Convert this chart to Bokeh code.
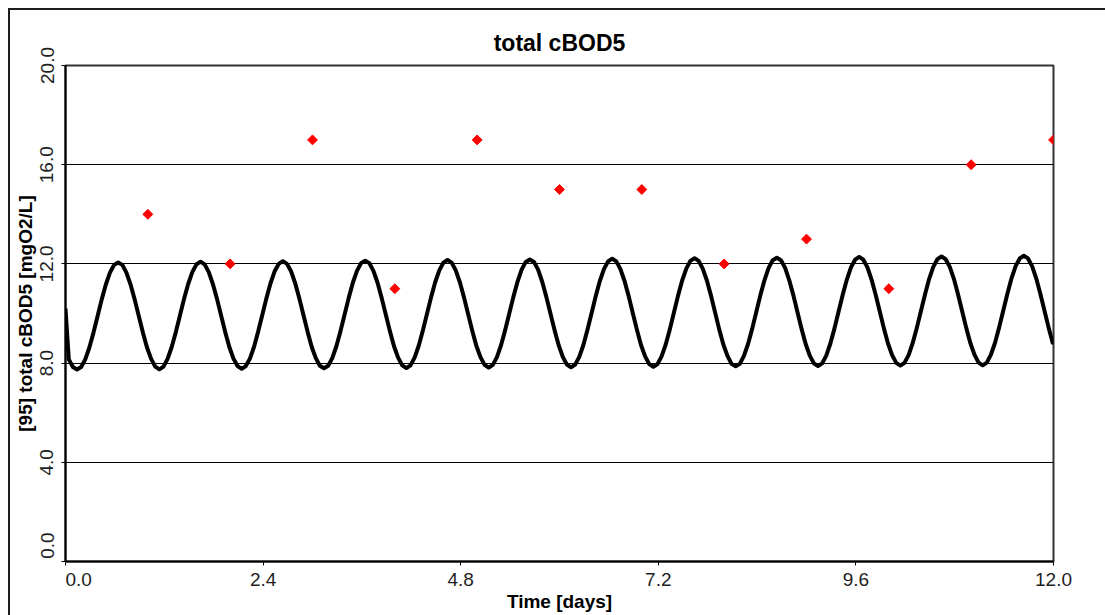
from bokeh.plotting import figure
from bokeh.models import Range1d, FixedTicker, ColumnDataSource, NumeralTickFormatter
from bokeh.embed import file_html
from bokeh.resources import INLINE

# ---- data ----
time_days = [
    0.0,
    0.04, 0.09, 0.14, 0.19, 0.24, 0.29, 0.34, 0.39, 0.44, 0.49, 0.54, 0.59, 0.64, 0.69, 0.74, 0.79, 0.84, 0.89, 0.94, 0.99,
    1.04, 1.09, 1.14, 1.19, 1.24, 1.29, 1.34, 1.39, 1.44, 1.49, 1.54, 1.59, 1.64, 1.69, 1.74, 1.79, 1.84, 1.89, 1.94, 1.99,
    2.04, 2.09, 2.14, 2.19, 2.24, 2.29, 2.34, 2.39, 2.44, 2.49, 2.54, 2.59, 2.64, 2.69, 2.74, 2.79, 2.84, 2.89, 2.94, 2.99,
    3.04, 3.09, 3.14, 3.19, 3.24, 3.29, 3.34, 3.39, 3.44, 3.49, 3.54, 3.59, 3.64, 3.69, 3.74, 3.79, 3.84, 3.89, 3.94, 3.99,
    4.04, 4.09, 4.14, 4.19, 4.24, 4.29, 4.34, 4.39, 4.44, 4.49, 4.54, 4.59, 4.64, 4.69, 4.74, 4.79, 4.84, 4.89, 4.94, 4.99,
    5.04, 5.09, 5.14, 5.19, 5.24, 5.29, 5.34, 5.39, 5.44, 5.49, 5.54, 5.59, 5.64, 5.69, 5.74, 5.79, 5.84, 5.89, 5.94, 5.99,
    6.04, 6.09, 6.14, 6.19, 6.24, 6.29, 6.34, 6.39, 6.44, 6.49, 6.54, 6.59, 6.64, 6.69, 6.74, 6.79, 6.84, 6.89, 6.94, 6.99,
    7.04, 7.09, 7.14, 7.19, 7.24, 7.29, 7.34, 7.39, 7.44, 7.49, 7.54, 7.59, 7.64, 7.69, 7.74, 7.79, 7.84, 7.89, 7.94, 7.99,
    8.04, 8.09, 8.14, 8.19, 8.24, 8.29, 8.34, 8.39, 8.44, 8.49, 8.54, 8.59, 8.64, 8.69, 8.74, 8.79, 8.84, 8.89, 8.94, 8.99,
    9.04, 9.09, 9.14, 9.19, 9.24, 9.29, 9.34, 9.39, 9.44, 9.49, 9.54, 9.59, 9.64, 9.69, 9.74, 9.79, 9.84, 9.89, 9.94, 9.99,
    10.04, 10.09, 10.14, 10.19, 10.24, 10.29, 10.34, 10.39, 10.44, 10.49, 10.54, 10.59, 10.64, 10.69, 10.74, 10.79, 10.84, 10.89, 10.94, 10.99,
    11.04, 11.09, 11.14, 11.19, 11.24, 11.29, 11.34, 11.39, 11.44, 11.49, 11.54, 11.59, 11.64, 11.69, 11.74, 11.79, 11.84, 11.89, 11.94, 11.99,
    12.0,
]
cbod_model = [
    10.2,
    8.15, 7.84, 7.74, 7.84, 8.15, 8.63, 9.23, 9.90, 10.57, 11.17, 11.65, 11.96, 12.06, 11.96, 11.65, 11.17, 10.57, 9.90, 9.23, 8.63,
    8.17, 7.86, 7.75, 7.86, 8.17, 8.65, 9.25, 9.92, 10.59, 11.19, 11.67, 11.98, 12.09, 11.98, 11.67, 11.19, 10.59, 9.92, 9.25, 8.65,
    8.18, 7.88, 7.77, 7.88, 8.18, 8.66, 9.27, 9.94, 10.61, 11.22, 11.70, 12.00, 12.11, 12.00, 11.70, 11.22, 10.61, 9.94, 9.27, 8.66,
    8.20, 7.89, 7.79, 7.89, 8.20, 8.68, 9.29, 9.96, 10.63, 11.24, 11.72, 12.03, 12.13, 12.03, 11.72, 11.24, 10.63, 9.96, 9.29, 8.68,
    8.22, 7.91, 7.80, 7.91, 8.22, 8.70, 9.31, 9.98, 10.65, 11.26, 11.74, 12.05, 12.16, 12.05, 11.74, 11.26, 10.65, 9.98, 9.31, 8.70,
    8.24, 7.93, 7.82, 7.93, 8.24, 8.72, 9.33, 10.00, 10.67, 11.28, 11.77, 12.08, 12.18, 12.08, 11.77, 11.28, 10.67, 10.00, 9.33, 8.72,
    8.25, 7.94, 7.83, 7.94, 8.25, 8.73, 9.35, 10.02, 10.70, 11.31, 11.79, 12.10, 12.21, 12.10, 11.79, 11.31, 10.70, 10.02, 9.35, 8.73,
    8.27, 7.96, 7.85, 7.96, 8.27, 8.75, 9.36, 10.04, 10.72, 11.33, 11.81, 12.12, 12.23, 12.12, 11.81, 11.33, 10.72, 10.04, 9.36, 8.75,
    8.29, 7.97, 7.87, 7.97, 8.29, 8.77, 9.38, 10.06, 10.74, 11.35, 11.84, 12.15, 12.25, 12.15, 11.84, 11.35, 10.74, 10.06, 9.38, 8.77,
    8.30, 7.99, 7.88, 7.99, 8.30, 8.79, 9.40, 10.08, 10.76, 11.37, 11.86, 12.17, 12.28, 12.17, 11.86, 11.37, 10.76, 10.08, 9.40, 8.79,
    8.32, 8.01, 7.90, 8.01, 8.32, 8.81, 9.42, 10.10, 10.78, 11.40, 11.88, 12.19, 12.30, 12.19, 11.88, 11.40, 10.78, 10.10, 9.42, 8.81,
    8.34, 8.02, 7.91, 8.02, 8.34, 8.82, 9.44, 10.12, 10.80, 11.42, 11.91, 12.22, 12.33, 12.22, 11.91, 11.42, 10.80, 10.12, 9.44, 8.82,
    8.78,
]
obs_days = [1, 2, 3, 4, 5, 6, 7, 8, 9, 10, 11, 12]
obs_cbod = [14, 12, 17, 11, 17, 15, 15, 12, 13, 11, 16, 17]

x_ticks = [0.0, 2.4, 4.8, 7.2, 9.6, 12.0]
y_ticks = [0.0, 4.0, 8.0, 12.0, 16.0, 20.0]

title_text = "total cBOD5"
x_label = "Time [days]"
y_label = "[95] total cBOD5 [mgO2/L]"

FONT = "Liberation Sans"
INK = "#1e1e1e"
NBSP = "\u00a0"

p = figure(
    frame_width=988, frame_height=496,
    min_border_left=55, min_border_right=52, min_border_top=55, min_border_bottom=54,
    x_range=Range1d(0, 12), y_range=Range1d(0, 20),
    output_backend="svg", toolbar_location=None,
    title=title_text,
)
p.margin = (8, 0, 0, 8)
p.styles = {"border-top": "2px solid #1e1e1e", "border-left": "2px solid #1e1e1e"}

p.background_fill_color = "white"
p.border_fill_color = "white"
p.outline_line_color = "#333333"
p.outline_line_width = 2

p.title.text_font = FONT
p.title.text_font_size = "23px"
p.title.text_font_style = "bold"
p.title.text_color = "black"
p.title.align = "center"
p.title.standoff = 19

# x axis
xa = p.xaxis[0]
xa.ticker = FixedTicker(ticks=x_ticks)
xa.formatter = NumeralTickFormatter(format="0.0")
# first label kept inside the frame, as in the reference
xa.major_label_overrides = {0: NBSP * 5 + "0.0"}
xa.minor_tick_line_color = None
xa.major_tick_in = 0
xa.major_tick_out = 4
xa.major_tick_line_color = "black"
xa.axis_line_color = "black"
xa.axis_line_width = 2
xa.major_label_text_font = FONT
xa.major_label_text_font_size = "19px"
xa.major_label_text_color = INK
xa.major_label_standoff = 3
xa.axis_label = x_label
xa.axis_label_text_font = FONT
xa.axis_label_text_font_size = "19px"
xa.axis_label_text_font_style = "bold"
xa.axis_label_text_color = "black"
xa.axis_label_standoff = -2

# y axis
ya = p.yaxis[0]
ya.ticker = FixedTicker(ticks=y_ticks)
ya.formatter = NumeralTickFormatter(format="0.0")
ya.major_label_overrides = {0: NBSP * 6 + "0.0"}
ya.minor_tick_line_color = None
ya.major_tick_in = 0
ya.major_tick_out = 4
ya.major_tick_line_color = "black"
ya.axis_line_color = "black"
ya.axis_line_width = 2
ya.major_label_orientation = "vertical"
ya.major_label_text_font = FONT
ya.major_label_text_font_size = "19px"
ya.major_label_text_color = INK
ya.major_label_standoff = 4
ya.axis_label = y_label
ya.axis_label_text_font = FONT
ya.axis_label_text_font_size = "19px"
ya.axis_label_text_font_style = "bold"
ya.axis_label_text_color = "black"
ya.axis_label_standoff = -2

p.xgrid.visible = False
p.ygrid.ticker = FixedTicker(ticks=y_ticks)
p.ygrid.grid_line_color = "black"
p.ygrid.grid_line_width = 1
p.ygrid.grid_line_alpha = 1.0

model_src = ColumnDataSource(dict(t=time_days, v=cbod_model))
obs_src = ColumnDataSource(dict(t=obs_days, v=obs_cbod))
p.line("t", "v", source=model_src, line_color="black", line_width=4, line_join="round")
p.scatter("t", "v", source=obs_src, marker="square", angle=0.785398, size=7,
          fill_color="#ff0000", line_color="#ff0000")

open("out.html", "w").write(file_html(p, INLINE))
